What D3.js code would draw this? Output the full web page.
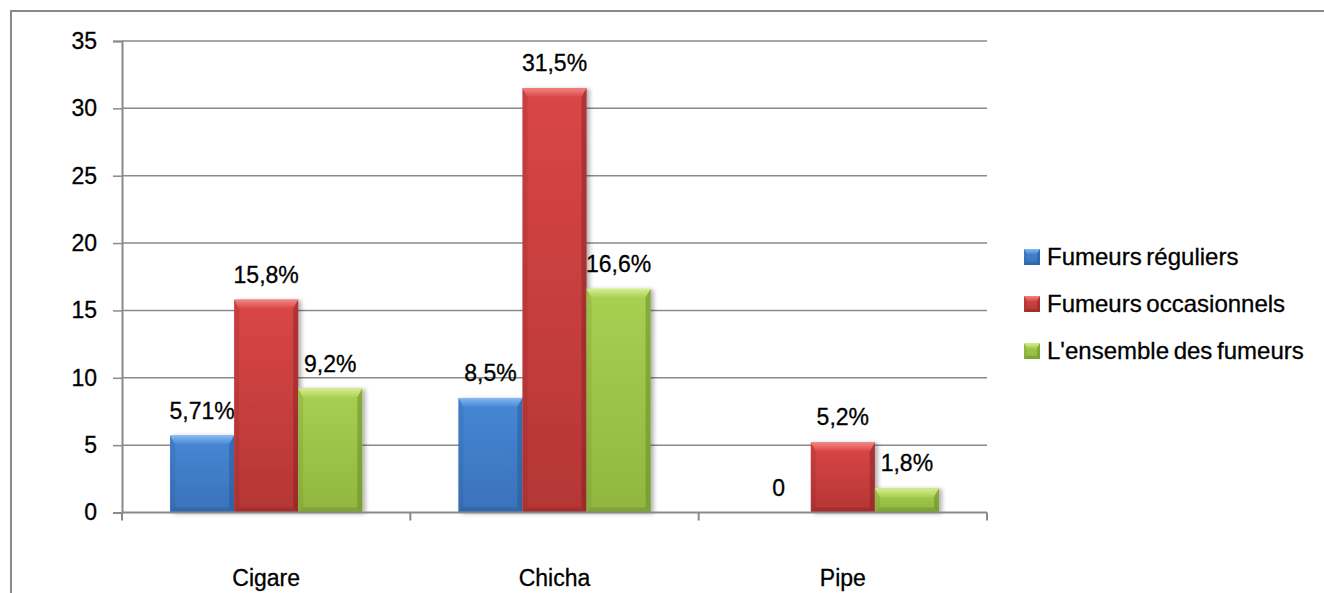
<!DOCTYPE html>
<html>
<head>
<meta charset="utf-8">
<script src="https://cdn.jsdelivr.net/npm/d3@7"></script>
<style>
  html, body { margin: 0; padding: 0; background: #fff; }
  svg { display: block; }
  text { font-family: "Liberation Sans", Arial, sans-serif; fill: #000; stroke: #000; stroke-width: 0.3px; }
</style>
</head>
<body>
<svg id="chart" width="1324" height="593"></svg>
<script>
// Chart data
const categories = ["Cigare", "Chicha", "Pipe"];
const seriesNames = ["Fumeurs réguliers", "Fumeurs occasionnels", "L'ensemble des fumeurs"];
const reguliers = [5.71, 8.5, 0];
const occasionnels = [15.8, 31.5, 5.2];
const ensemble = [9.2, 16.6, 1.8];
const labelsReguliers = ["5,71%", "8,5%", "0"];
const labelsOccasionnels = ["15,8%", "31,5%", "5,2%"];
const labelsEnsemble = ["9,2%", "16,6%", "1,8%"];
const yTicks = [0, 5, 10, 15, 20, 25, 30, 35];

const seriesValues = [reguliers, occasionnels, ensemble];
const seriesLabels = [labelsReguliers, labelsOccasionnels, labelsEnsemble];

// Bar palettes: top/bottom of body gradient, bevel highlight, edge shade
const palettes = [
  { top: "#4787d4", bottom: "#3a72ba", light: "#85b9f2", dark: "#24528e" },
  { top: "#da4646", bottom: "#b53636", light: "#f28585", dark: "#7e1f1f" },
  { top: "#a8d052", bottom: "#90b640", light: "#d6ee90", dark: "#62801f" }
];

const svg = d3.select("#chart");
const W = 1324, H = 593;
const plot = { left: 122, right: 987, top: 41, bottom: 512.5 };

// Outer frame
svg.append("rect")
  .attr("x", 11).attr("y", 11)
  .attr("width", W + 20).attr("height", H + 20)
  .attr("fill", "none").attr("stroke", "#8a8a8a").attr("stroke-width", 2);

const defs = svg.append("defs");
const shadow = defs.append("filter").attr("id", "barShadow")
  .attr("x", "-20%").attr("y", "-10%").attr("width", "150%").attr("height", "130%");
shadow.append("feDropShadow")
  .attr("dx", 3).attr("dy", 1).attr("stdDeviation", 2)
  .attr("flood-color", "#000").attr("flood-opacity", 0.3);

palettes.forEach((p, i) => {
  const g = defs.append("linearGradient").attr("id", "body" + i)
    .attr("x1", 0).attr("y1", 0).attr("x2", 0).attr("y2", 1);
  g.append("stop").attr("offset", "0%").attr("stop-color", p.top);
  g.append("stop").attr("offset", "100%").attr("stop-color", p.bottom);
  const t = defs.append("linearGradient").attr("id", "bevel" + i)
    .attr("x1", 0).attr("y1", 0).attr("x2", 0).attr("y2", 1);
  t.append("stop").attr("offset", "0%").attr("stop-color", p.light);
  t.append("stop").attr("offset", "100%").attr("stop-color", p.top);
});

// Scales
const x0 = d3.scaleBand().domain(categories)
  .range([plot.left, plot.right])
  .paddingInner(1 / 3).paddingOuter(1 / 6);
const x1 = d3.scaleBand().domain(d3.range(seriesNames.length))
  .range([0, x0.bandwidth()]);
const y = d3.scaleLinear().domain([0, 35]).range([plot.bottom, plot.top]);

// Gridlines
svg.append("g").selectAll("line")
  .data(yTicks.filter(d => d > 0))
  .join("line")
  .attr("x1", plot.left).attr("x2", plot.right)
  .attr("y1", d => y(d)).attr("y2", d => y(d))
  .attr("stroke", "#8a8a8a").attr("stroke-width", 1.5);

// Y axis
const yAxis = svg.append("g")
  .attr("transform", `translate(${plot.left},0)`)
  .call(d3.axisLeft(y).tickValues(yTicks).tickSize(9).tickPadding(16));
yAxis.select(".domain").attr("stroke", "#8a8a8a").attr("stroke-width", 2);
yAxis.selectAll(".tick line").attr("stroke", "#8a8a8a").attr("stroke-width", 1.5);
yAxis.selectAll(".tick text")
  .attr("font-size", 23).attr("fill", "#000")
  .style("font-family", '"Liberation Sans", Arial, sans-serif');

// Bevelled bar drawn inside a local group
function drawBar(g, w, h, si, bevelTop, bevelSide) {
  const p = palettes[si];
  g.append("rect").attr("width", w).attr("height", h).attr("fill", `url(#body${si})`);
  if (h <= 0) return;
  const bt = Math.min(bevelTop, h / 2), bs = Math.min(bevelSide, w / 2, h / 2);
  // top bevel
  g.append("path")
    .attr("d", `M0,0 L${w},0 L${w - bs},${bt} L${bs},${bt} Z`)
    .attr("fill", `url(#bevel${si})`);
  // left edge
  g.append("path")
    .attr("d", `M0,0 L${bs},${bt} L${bs},${h - bs} L0,${h} Z`)
    .attr("fill", p.dark).attr("opacity", 0.18);
  // right edge
  g.append("path")
    .attr("d", `M${w},0 L${w},${h} L${w - bs},${h - bs} L${w - bs},${bt} Z`)
    .attr("fill", p.dark).attr("opacity", 0.45);
  // bottom edge
  g.append("path")
    .attr("d", `M0,${h} L${bs},${h - bs} L${w - bs},${h - bs} L${w},${h} Z`)
    .attr("fill", p.dark).attr("opacity", 0.35);
}

// Bars
const groups = svg.append("g").selectAll("g")
  .data(categories)
  .join("g")
  .attr("transform", c => `translate(${x0(c)},0)`);

groups.each(function (c, ci) {
  const grp = d3.select(this);
  seriesValues.forEach((vals, si) => {
    const v = vals[ci];
    const bx = x1(si), bw = x1.bandwidth();
    const top = y(v), h = y(0) - y(v);
    if (h > 0) {
      const bar = grp.append("g")
        .attr("transform", `translate(${bx},${top})`)
        .attr("filter", "url(#barShadow)");
      drawBar(bar, bw, h, si, 9, 5);
    }
    grp.append("text")
      .attr("x", bx + bw / 2)
      .attr("y", top - 17)
      .attr("text-anchor", "middle")
      .attr("font-size", 23)
      .text(seriesLabels[si][ci]);
  });
});

// X axis baseline with ticks between categories
const xAxis = svg.append("g");
xAxis.append("line")
  .attr("x1", plot.left).attr("x2", plot.right)
  .attr("y1", y(0)).attr("y2", y(0))
  .attr("stroke", "#8a8a8a").attr("stroke-width", 2);
const step = x0.step();
const bounds = categories.map(c => x0(c) - (step - x0.bandwidth()) / 2).concat([plot.right]);
xAxis.selectAll("line.tick")
  .data(bounds)
  .join("line").attr("class", "tick")
  .attr("x1", d => d).attr("x2", d => d)
  .attr("y1", y(0)).attr("y2", y(0) + 8)
  .attr("stroke", "#8a8a8a").attr("stroke-width", 2);
xAxis.selectAll("text")
  .data(categories)
  .join("text")
  .attr("x", c => x0(c) + x0.bandwidth() / 2)
  .attr("y", 586)
  .attr("text-anchor", "middle")
  .attr("font-size", 23)
  .text(c => c);

// Legend
const legend = svg.append("g").attr("transform", "translate(1024,0)");
const legendBaselines = [265, 312, 359];
seriesNames.forEach((name, si) => {
  const row = legend.append("g");
  const sw = row.append("g").attr("transform", `translate(0,${legendBaselines[si] - 16})`);
  drawBar(sw, 16, 16, si, 5, 3);
  row.append("text")
    .attr("x", 23).attr("y", legendBaselines[si])
    .attr("font-size", 24)
    .attr("word-spacing", -2)
    .text(name);
});
</script>
</body>
</html>
